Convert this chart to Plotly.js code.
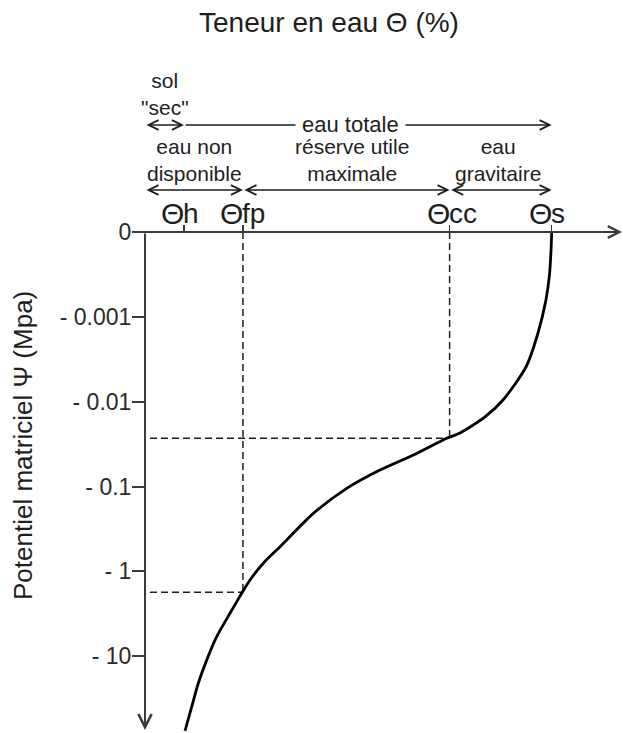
<!DOCTYPE html>
<html><head><meta charset="utf-8">
<script src="https://cdn.plot.ly/plotly-3.0.1.min.js"></script>
<style>html,body{margin:0;padding:0;background:#fff}#chart{width:623px;height:733px}</style>
</head><body><div id="chart"></div>
<script>
// Water content Θ (%) and matric potential Ψ (MPa)
const thetaCurve = [49.0, 48.92, 48.73, 48.31, 47.35, 45.90, 43.13, 40.96, 37.95, 36.35, 32.33, 28.31, 24.30, 20.28, 16.27, 14.25, 12.65, 11.65, 10.24, 8.64, 7.43, 6.42, 5.63, 4.82];
const psiCurve   = [0, -0.000163, -0.000321, -0.00063, -0.00155, -0.0039, -0.00955, -0.0151, -0.0234, -0.027, -0.0425, -0.0638, -0.105, -0.207, -0.511, -0.80, -1.26, -1.81, -3.11, -5.87, -11.1, -20.8, -39.3, -75.9];

const markerSuffix = ['h', 'fp', 'cc', 's'];
const markerTheta  = [4.7, 11.8, 36.7, 49.0];
const psiCc = -0.027;   // field capacity
const psiFp = -1.76;    // wilting point
const psiAxisEnd = -74;

const psiTickVals = [0, -0.001, -0.01, -0.1, -1, -10];
const psiTickText = ['0', '- 0.001', '- 0.01', '- 0.1', '- 1', '- 10'];

const titleText = 'Teneur en eau Θ (%)';
const yTitleText = 'Potentiel matriciel Ψ (Mpa)';

// log-decade scale, with 0 drawn one decade above 0.001
const dec = p => p === 0 ? -4 : Math.log10(-p);

const W = 623, H = 733, L = 145, T = 232;
const PW = W - L, PH = H - T;
const XMAX = 57.59;
const px = x => (x - L) / PW;
const py = y => (H - y) / PH;
const dx = pix => pix / (PW / XMAX);

const FONT = 'Liberation Sans, Arial, sans-serif';
const INK = '#1e1e1e';
const AX = '#3a3a3a';

const [thH, thFp, thCc, thS] = markerTheta;

const dashLine = {color: INK, width: 1.5, dash: '7px,4px'};
const traces = [
  {x: [thCc, thCc], y: [dec(0), dec(psiCc)], mode: 'lines', line: dashLine, hoverinfo: 'skip'},
  {x: [dx(5), thCc], y: [dec(psiCc), dec(psiCc)], mode: 'lines', line: dashLine, hoverinfo: 'skip'},
  {x: [thFp, thFp], y: [dec(0), dec(psiFp)], mode: 'lines', line: dashLine, hoverinfo: 'skip'},
  {x: [dx(5), thFp], y: [dec(psiFp), dec(psiFp)], mode: 'lines', line: dashLine, hoverinfo: 'skip'},
  {x: thetaCurve, y: psiCurve.map(dec), mode: 'lines', line: {color: '#000', width: 2.8, shape: 'spline', smoothing: 0.7}, cliponaxis: false, hoverinfo: 'skip'}
];

function hArrow(x0, x1, yPx, both) {
  return {xref: 'x', x: x1, axref: 'x', ax: x0, yref: 'paper', y: py(yPx), ay: 0, text: '',
    showarrow: true, arrowhead: 5, startarrowhead: 5, arrowside: both ? 'end+start' : 'end',
    arrowsize: 1.3, startarrowsize: 1.3, arrowwidth: 1.5, arrowcolor: INK, standoff: 0, startstandoff: 0};
}
function txt(text, xPx, yPx, size, extra) {
  return Object.assign({xref: 'paper', x: px(xPx), yref: 'paper', y: py(yPx), text: text, showarrow: false,
    xanchor: 'center', yanchor: 'middle', font: {family: FONT, size: size, color: INK}}, extra || {});
}

const annotations = [
  // axes drawn as arrows
  {xref: 'x', x: dx(622 - L), axref: 'x', ax: dx(-12), yref: 'paper', y: 1, ay: 0, text: '',
   showarrow: true, arrowhead: 5, arrowsize: 1.15, arrowwidth: 2, arrowcolor: AX, standoff: 0},
  {xref: 'x', x: 0, axref: 'x', ax: 0, yref: 'y', y: dec(psiAxisEnd), ayref: 'y', ay: dec(0), text: '',
   showarrow: true, arrowhead: 5, arrowsize: 1.3, arrowwidth: 2, arrowcolor: AX, standoff: 0},
  // range arrows
  hArrow(0, thH, 125, true),
  hArrow(thH, thS, 125, false),
  hArrow(0, thFp, 190, true),
  hArrow(thFp, thCc, 190, true),
  hArrow(thCc, thS, 190, true),
  // labels
  txt('sol<br>"sec"', 165, 94, 21),
  txt('eau totale', 350, 124.5, 22, {bgcolor: '#fff', borderpad: 6}),
  txt('eau non<br>disponible', 194, 160.5, 21),
  txt('réserve utile<br>maximale', 351.7, 160.5, 21),
  txt('eau<br>gravitaire', 498, 160.5, 21),
  txt(yTitleText, 23, 446, 26, {textangle: -90})
];
markerTheta.forEach((t, i) => {
  annotations.push({xref: 'x', x: t, yref: 'paper', y: py(213), text: 'Θ', showarrow: false,
    xanchor: 'right', yanchor: 'middle', borderpad: 0, xshift: 1, font: {family: FONT, size: 30, color: INK}});
  annotations.push({xref: 'x', x: t, yref: 'paper', y: py(213), text: markerSuffix[i], showarrow: false,
    xanchor: 'left', yanchor: 'middle', borderpad: 0, xshift: -2, font: {family: FONT, size: 28, color: INK}});
});

const layout = {
  width: W, height: H,
  margin: {l: L, r: 0, t: T, b: 0, pad: 0},
  paper_bgcolor: '#fff', plot_bgcolor: '#fff',
  showlegend: false,
  font: {family: FONT, color: INK},
  title: {text: titleText, font: {family: FONT, size: 28, color: INK}, xref: 'container', x: 329 / W, xanchor: 'center',
          yref: 'container', y: 1 - 22 / H, yanchor: 'middle'},
  xaxis: {range: [0, XMAX], side: 'top', showgrid: false, zeroline: false, showline: false,
          ticks: 'outside', ticklen: 6, tickwidth: 1.5, tickcolor: AX, tickvals: markerTheta, showticklabels: false, fixedrange: true},
  yaxis: {range: [1.904, -4], showgrid: false, zeroline: false, showline: false,
          ticks: 'outside', ticklen: 12, tickwidth: 2, tickcolor: AX, ticklabelstandoff: -4,
          tickvals: psiTickVals.map(dec), ticktext: psiTickText, tickfont: {family: FONT, size: 23, color: '#2a2a2a'}, fixedrange: true},
  annotations: annotations
};

Plotly.newPlot('chart', traces, layout, {displayModeBar: false, staticPlot: true});
</script>
</body></html>
